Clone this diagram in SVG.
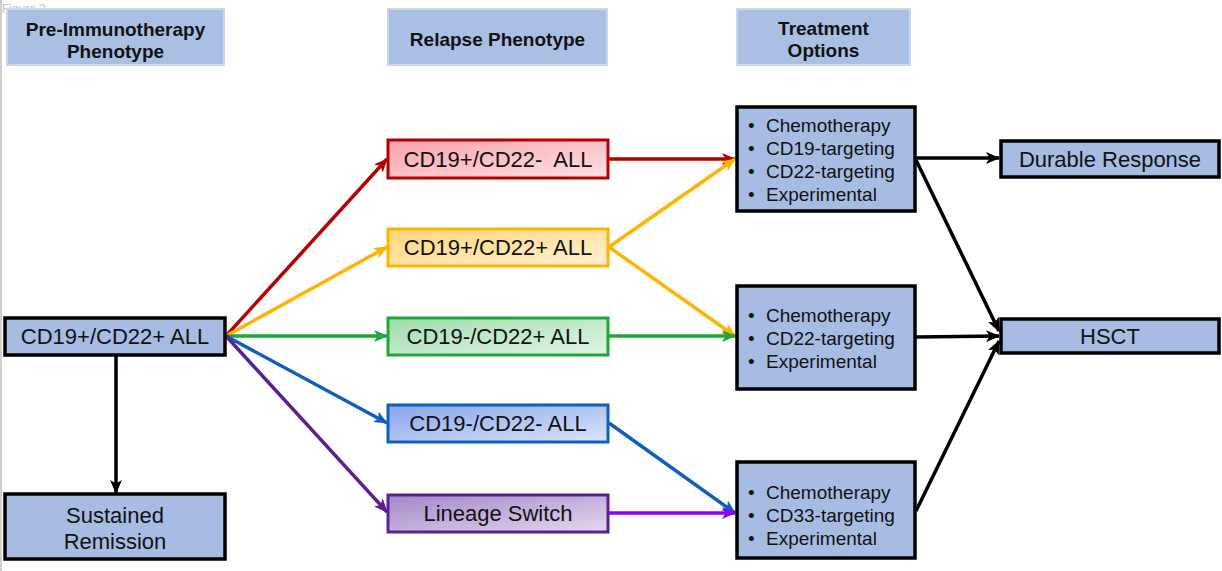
<svg xmlns="http://www.w3.org/2000/svg" width="1222" height="571" viewBox="0 0 1222 571">
<style>
text{font-family:"Liberation Sans",Arial,sans-serif;fill:#111}
.hdr{fill:#a9bfe3;stroke:#cbd7ee;stroke-width:2}
.ht{font-size:19px;font-weight:bold;text-anchor:middle}
.bk{fill:#a6bce2;stroke:#000;stroke-width:3.5}
.nt{font-size:22px;text-anchor:middle}
.lt{font-size:19px}
.rb{stroke-width:3}
.c{fill:none;stroke-width:3.5}
</style>
<defs>
<linearGradient id="gR" x1="0" y1="0" x2="1" y2="1"><stop offset="0" stop-color="#f8a2aa"/><stop offset="1" stop-color="#fde2e3"/></linearGradient>
<linearGradient id="gY" x1="0" y1="0" x2="1" y2="1"><stop offset="0" stop-color="#fed679"/><stop offset="1" stop-color="#fff1d4"/></linearGradient>
<linearGradient id="gG" x1="0" y1="0" x2="1" y2="1"><stop offset="0" stop-color="#9fdcab"/><stop offset="1" stop-color="#e2f5e6"/></linearGradient>
<linearGradient id="gB" x1="0" y1="0" x2="1" y2="1"><stop offset="0" stop-color="#86a5ea"/><stop offset="1" stop-color="#dbe5f9"/></linearGradient>
<linearGradient id="gP" x1="0" y1="0" x2="1" y2="1"><stop offset="0" stop-color="#a486c8"/><stop offset="1" stop-color="#e4d8ee"/></linearGradient>
<marker id="aR" viewBox="0 0 14 12" refX="13" refY="6" markerWidth="14" markerHeight="12" markerUnits="userSpaceOnUse" orient="auto"><path d="M0,0 L14,6 L0,12 L3.5,6 Z" fill="#b40000"/></marker>
<marker id="aY" viewBox="0 0 14 12" refX="13" refY="6" markerWidth="14" markerHeight="12" markerUnits="userSpaceOnUse" orient="auto"><path d="M0,0 L14,6 L0,12 L3.5,6 Z" fill="#ffb400"/></marker>
<marker id="aG" viewBox="0 0 14 12" refX="13" refY="6" markerWidth="14" markerHeight="12" markerUnits="userSpaceOnUse" orient="auto"><path d="M0,0 L14,6 L0,12 L3.5,6 Z" fill="#1ea83a"/></marker>
<marker id="aB" viewBox="0 0 14 12" refX="13" refY="6" markerWidth="14" markerHeight="12" markerUnits="userSpaceOnUse" orient="auto"><path d="M0,0 L14,6 L0,12 L3.5,6 Z" fill="#0f5fc0"/></marker>
<marker id="aP" viewBox="0 0 14 12" refX="13" refY="6" markerWidth="14" markerHeight="12" markerUnits="userSpaceOnUse" orient="auto"><path d="M0,0 L14,6 L0,12 L3.5,6 Z" fill="#5b1f96"/></marker>
<marker id="aV" viewBox="0 0 14 12" refX="13" refY="6" markerWidth="14" markerHeight="12" markerUnits="userSpaceOnUse" orient="auto"><path d="M0,0 L14,6 L0,12 L3.5,6 Z" fill="#8a00ff"/></marker>
<marker id="aK" viewBox="0 0 14 12" refX="13" refY="6" markerWidth="14" markerHeight="12" markerUnits="userSpaceOnUse" orient="auto"><path d="M0,0 L14,6 L0,12 L3.5,6 Z" fill="#000"/></marker>
</defs>
<rect x="0" y="0" width="1222" height="571" fill="#fff"/>
<rect x="0" y="0" width="2" height="571" fill="#d0d0d0"/>
<text x="2" y="13" style="font-size:12px;fill:#c4c4c4">Figure 3</text>

<g id="connectors">
<line class="c" x1="116" y1="355" x2="116" y2="493" stroke="#000" marker-end="url(#aK)"/>
<line class="c" x1="226" y1="336" x2="387" y2="159" stroke="#b40000" marker-end="url(#aR)"/>
<line class="c" x1="226" y1="336" x2="387" y2="247" stroke="#ffb400" marker-end="url(#aY)"/>
<line class="c" x1="226" y1="336" x2="387" y2="336" stroke="#1ea83a" marker-end="url(#aG)"/>
<line class="c" x1="226" y1="336" x2="387" y2="423" stroke="#0f5fc0" marker-end="url(#aB)"/>
<line class="c" x1="226" y1="336" x2="387" y2="512" stroke="#5b1f96" marker-end="url(#aP)"/>
<line class="c" x1="609" y1="159" x2="735" y2="159" stroke="#b40000" marker-end="url(#aR)"/>
<line class="c" x1="609" y1="247" x2="735" y2="159" stroke="#ffb400" marker-end="url(#aY)"/>
<line class="c" x1="609" y1="247" x2="735" y2="336" stroke="#ffb400" marker-end="url(#aY)"/>
<line class="c" x1="609" y1="336" x2="735" y2="336" stroke="#1ea83a" marker-end="url(#aG)"/>
<line class="c" x1="609" y1="423" x2="735" y2="513" stroke="#0f5fc0" marker-end="url(#aB)"/>
<line class="c" x1="609" y1="513" x2="735" y2="513" stroke="#8a00ff" marker-end="url(#aV)"/>
<line class="c" x1="916" y1="158" x2="999" y2="158" stroke="#000" marker-end="url(#aK)"/>
<line class="c" x1="916" y1="160" x2="999" y2="331" stroke="#000" marker-end="url(#aK)"/>
<line class="c" x1="916" y1="337" x2="999" y2="336" stroke="#000" marker-end="url(#aK)"/>
<line class="c" x1="916" y1="511" x2="999" y2="341" stroke="#000" marker-end="url(#aK)"/>
</g>

<g id="hdr-pre"><rect class="hdr" x="7" y="9" width="217" height="56"/><text class="ht" x="115.5" y="36">Pre-Immunotherapy</text><text class="ht" x="115.5" y="58">Phenotype</text></g>
<g id="hdr-relapse"><rect class="hdr" x="388" y="9" width="219" height="56"/><text class="ht" x="497.5" y="46">Relapse Phenotype</text></g>
<g id="hdr-treat"><rect class="hdr" x="737" y="9" width="173" height="56"/><text class="ht" x="823.5" y="35">Treatment</text><text class="ht" x="823.5" y="57">Options</text></g>

<g id="n-pre"><rect class="bk" x="5" y="318" width="220" height="37"/><text class="nt" x="115" y="344">CD19+/CD22+ ALL</text></g>
<g id="n-remission"><rect class="bk" x="5" y="494" width="220" height="65"/><text class="nt" x="115" y="523">Sustained</text><text class="nt" x="115" y="549">Remission</text></g>

<g id="n-r1"><rect class="rb" x="388" y="140" width="220" height="38" fill="url(#gR)" stroke="#b40000"/><text class="nt" x="498" y="167" xml:space="preserve">CD19+/CD22-  ALL</text></g>
<g id="n-r2"><rect class="rb" x="388" y="229" width="220" height="37" fill="url(#gY)" stroke="#ffb400"/><text class="nt" x="498" y="255">CD19+/CD22+ ALL</text></g>
<g id="n-r3"><rect class="rb" x="388" y="318" width="220" height="37" fill="url(#gG)" stroke="#1ea83a"/><text class="nt" x="498" y="344">CD19-/CD22+ ALL</text></g>
<g id="n-r4"><rect class="rb" x="388" y="405" width="220" height="37" fill="url(#gB)" stroke="#0f5fc0"/><text class="nt" x="498" y="431">CD19-/CD22- ALL</text></g>
<g id="n-r5"><rect class="rb" x="388" y="495" width="220" height="37" fill="url(#gP)" stroke="#5b1f96"/><text class="nt" x="498" y="521">Lineage Switch</text></g>

<g id="n-t1"><rect class="bk" x="737" y="107" width="178" height="104"/>
<text class="lt" x="748" y="132">•</text><text class="lt" x="766" y="132">Chemotherapy</text>
<text class="lt" x="748" y="155">•</text><text class="lt" x="766" y="155">CD19-targeting</text>
<text class="lt" x="748" y="178">•</text><text class="lt" x="766" y="178">CD22-targeting</text>
<text class="lt" x="748" y="201">•</text><text class="lt" x="766" y="201">Experimental</text></g>
<g id="n-t2"><rect class="bk" x="737" y="286" width="178" height="103"/>
<text class="lt" x="748" y="322">•</text><text class="lt" x="766" y="322">Chemotherapy</text>
<text class="lt" x="748" y="345">•</text><text class="lt" x="766" y="345">CD22-targeting</text>
<text class="lt" x="748" y="368">•</text><text class="lt" x="766" y="368">Experimental</text></g>
<g id="n-t3"><rect class="bk" x="737" y="462" width="178" height="96"/>
<text class="lt" x="748" y="499">•</text><text class="lt" x="766" y="499">Chemotherapy</text>
<text class="lt" x="748" y="522">•</text><text class="lt" x="766" y="522">CD33-targeting</text>
<text class="lt" x="748" y="545">•</text><text class="lt" x="766" y="545">Experimental</text></g>

<g id="n-durable"><rect class="bk" x="1001" y="141" width="218" height="36"/><text class="nt" x="1110" y="167">Durable Response</text></g>
<g id="n-hsct"><rect class="bk" x="1001" y="319" width="218" height="34"/><text class="nt" x="1110" y="344">HSCT</text></g>
</svg>
